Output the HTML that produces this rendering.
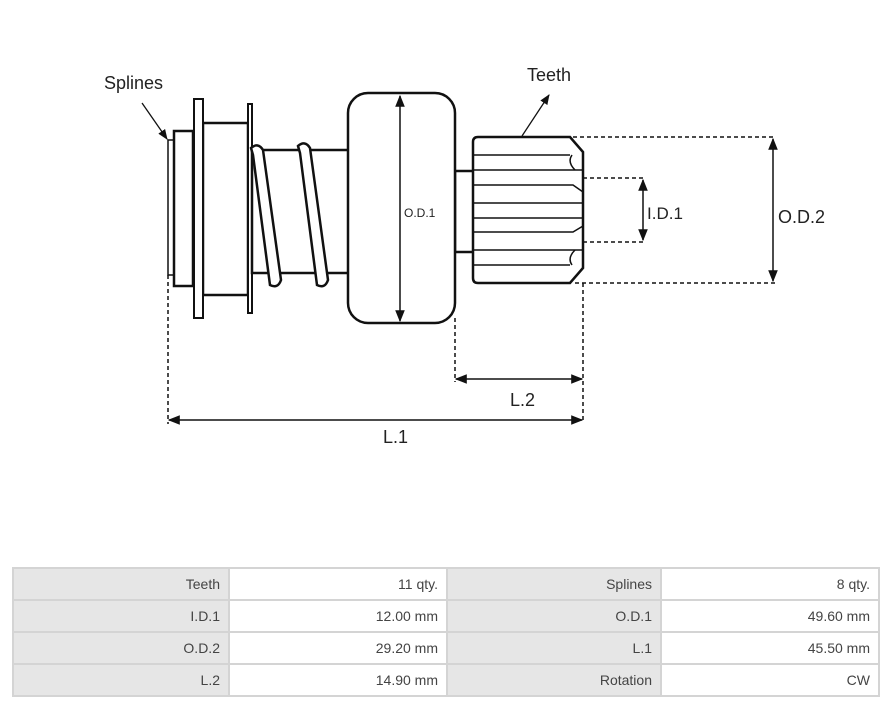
<!DOCTYPE html>
<html><head><meta charset="utf-8"><style>
body{margin:0;width:893px;height:705px;background:#fff;overflow:hidden;font-family:"Liberation Sans",sans-serif}
svg{position:absolute;left:0;top:0}
table{position:absolute;left:12px;top:567px;width:866px;border-collapse:collapse;font-size:14px;color:#444;table-layout:fixed}
td{border:2px solid #d4d4d4;height:29px;padding:0 8px;text-align:right;box-sizing:border-box}
td.g{background:#e6e6e6}
</style></head><body>
<svg width="893" height="560" viewBox="0 0 893 560">
<defs><marker id="a" viewBox="0 0 10 10" refX="9" refY="5" markerWidth="8" markerHeight="8" orient="auto-start-reverse"><path d="M0,1 L10,5 L0,9 z" fill="#111"/></marker></defs>
<g stroke="#111" stroke-width="2.5" fill="#fff">
<rect x="168" y="140" width="6" height="135" stroke-width="1.5"/>
<rect x="174" y="131" width="19" height="155"/>
<rect x="203" y="123" width="45" height="172"/>
<rect x="194" y="99" width="9" height="219" stroke-width="2"/>
<rect x="248" y="104" width="4" height="209" stroke-width="2"/>
<rect x="252" y="150" width="98" height="123"/>
<path d="M251,148 q7,-6 12,2 L281,280 q-3,9 -11,5 L253,155 z"/>
<path d="M298,146 q7,-6 12,2 L328,280 q-3,9 -11,5 L300,153 z"/>
<rect x="455" y="171" width="20" height="81"/>
<rect x="348" y="93" width="107" height="230" rx="20"/>
<path d="M478,137 H570 L583,152 V268 L570,283 H478 q-5,0 -5,-5 V142 q0,-5 5,-5 z"/>
</g>
<g stroke="#111" stroke-width="1.5" fill="none">
<path d="M474,155 H570 M474,170 H583 M474,185 H573 L583,192 M474,203 H583 M474,218 H583 M474,232 H573 L583,226 M474,250 H583 M474,265 H570"/>
<path d="M575,170 q-8,-8 -3,-15 M575,250 q-8,8 -3,15"/>
</g>
<g stroke="#111" stroke-width="1.5" stroke-dasharray="4,3" fill="none">
<path d="M573,137 H775 M583,178 H645 M583,242 H645 M575,283 H775 M583,283 V422 M455,318 V382 M168,275 V424"/>
</g>
<g stroke="#111" stroke-width="1.5" fill="none" marker-start="url(#a)" marker-end="url(#a)">
<line x1="400" y1="96" x2="400" y2="321"/>
<line x1="773" y1="139" x2="773" y2="281"/>
<line x1="643" y1="180" x2="643" y2="240"/>
<line x1="456" y1="379" x2="582" y2="379"/>
<line x1="169" y1="420" x2="582" y2="420"/>
</g>
<g stroke="#111" stroke-width="1.3" fill="none" marker-end="url(#a)">
<line x1="142" y1="103" x2="167" y2="139"/>
<line x1="522" y1="136" x2="549" y2="95"/>
</g>
<g font-family="Liberation Sans,sans-serif" fill="#222">
<text x="104" y="89" font-size="18">Splines</text>
<text x="527" y="81" font-size="18">Teeth</text>
<text x="404" y="217" font-size="12">O.D.1</text>
<text x="647" y="219" font-size="17">I.D.1</text>
<text x="778" y="223" font-size="18">O.D.2</text>
<text x="510" y="406" font-size="18">L.2</text>
<text x="383" y="443" font-size="18">L.1</text>
</g>
</svg>
<table>
<colgroup><col style="width:216px"><col style="width:218px"><col style="width:214px"><col style="width:218px"></colgroup>
<tr><td class="g" style="height:32px">Teeth</td><td>11 qty.</td><td class="g">Splines</td><td>8 qty.</td></tr>
<tr><td class="g" style="height:32px">I.D.1</td><td>12.00 mm</td><td class="g">O.D.1</td><td>49.60 mm</td></tr>
<tr><td class="g" style="height:32px">O.D.2</td><td>29.20 mm</td><td class="g">L.1</td><td>45.50 mm</td></tr>
<tr><td class="g" style="height:32px">L.2</td><td>14.90 mm</td><td class="g">Rotation</td><td>CW</td></tr>
</table>
</body></html>
